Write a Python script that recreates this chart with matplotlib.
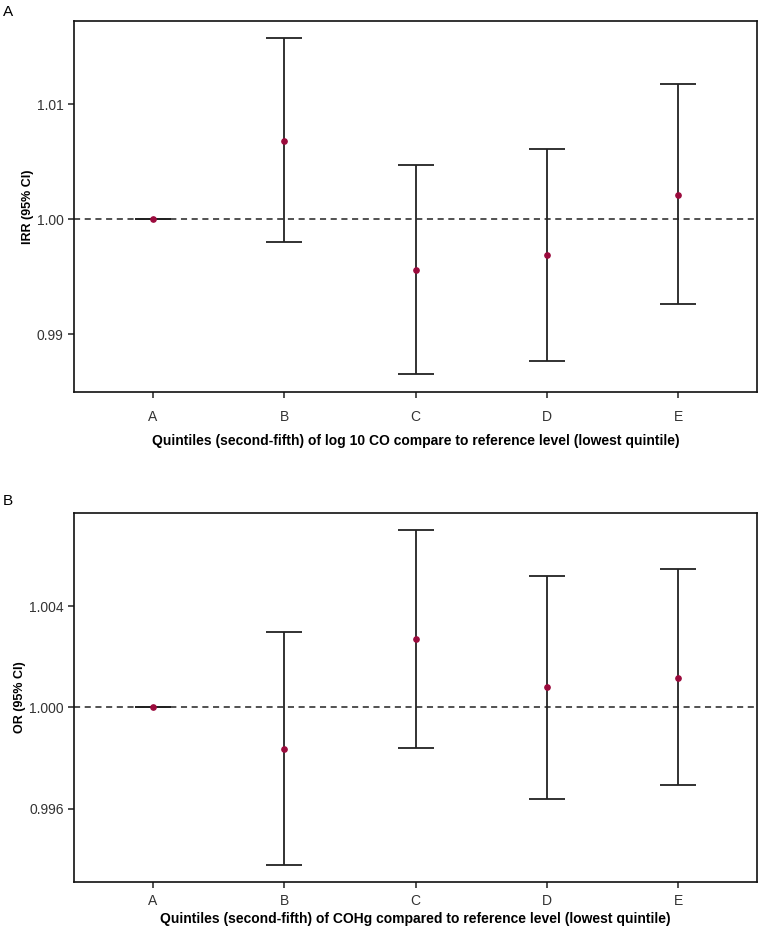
import numpy as np
import matplotlib.pyplot as plt

plt.rcParams['font.family'] = ['Liberation Sans', 'DejaVu Sans']

# 数据
groups = ['A', 'B', 'C', 'D', 'E']

irr = [1.0, 1.00683, 0.99557, 0.99687, 1.00214]
irr_lo = [1.0, 0.99800, 0.98655, 0.98770, 0.99261]
irr_hi = [1.0, 1.01579, 1.00475, 1.00609, 1.01177]

orr = [1.0, 0.99836, 1.00270, 1.00079, 1.00118]
orr_lo = [1.0, 0.99377, 0.99841, 0.99638, 0.99693]
orr_hi = [1.0, 1.00296, 1.00700, 1.00519, 1.00546]

fig = plt.figure(figsize=(7.59, 9.27), dpi=100)
axA = fig.add_axes([0.0975, 0.5771, 0.8999, 0.4002])
axB = fig.add_axes([0.0975, 0.0490, 0.8999, 0.3976])

def panel(ax, est, lo, hi, ylim, yticks, yfmt, ylabel, xlabel, tpad, xpad):
    x = np.arange(len(groups))
    est = np.array(est)
    err = [est - np.array(lo), np.array(hi) - est]
    ax.axhline(1.0, color='#222222', lw=1.1, ls=(0, (4, 3)), zorder=1)
    ax.errorbar(x, est, yerr=err, fmt='none', ecolor='#222222',
                elinewidth=1.3, capsize=13, capthick=1.3, zorder=2)
    ax.plot(x, est, 'o', color='#9b0a3c', ms=3.8, zorder=3)
    ax.set_xlim(-0.6, 4.6)
    ax.set_ylim(*ylim)
    ax.set_xticks(x)
    ax.set_xticklabels(groups)
    ax.set_yticks(yticks)
    ax.set_yticklabels([yfmt % v for v in yticks])
    ax.tick_params(direction='out', length=4, width=1.1, labelsize=10,
                   colors='#222222', labelcolor='#333333')
    ax.tick_params(axis='x', pad=tpad)
    for s in ax.spines.values():
        s.set_linewidth(1.2)
        s.set_color('#111111')
    ax.set_ylabel(ylabel, fontsize=9, fontweight='bold', labelpad=2)
    ax.set_xlabel(xlabel, fontsize=10, fontweight='bold', labelpad=xpad)

panel(axA, irr, irr_lo, irr_hi, (0.98498, 1.01724), [0.99, 1.00, 1.01], '%.2f',
      'IRR (95% CI)',
      'Quintiles (second-fifth) of log 10 CO compare to reference level (lowest quintile)', 9, 7)
panel(axB, orr, orr_lo, orr_hi, (0.99313, 1.00767), [0.996, 1.000, 1.004], '%.3f',
      'OR (95% CI)',
      'Quintiles (second-fifth) of COHg compared to reference level (lowest quintile)', 5, 3)

fig.text(0.004, 0.995, 'A', fontsize=11, va='top', ha='left')
fig.text(0.004, 0.467, 'B', fontsize=11, va='top', ha='left')

plt.savefig('out.png', dpi=100)
